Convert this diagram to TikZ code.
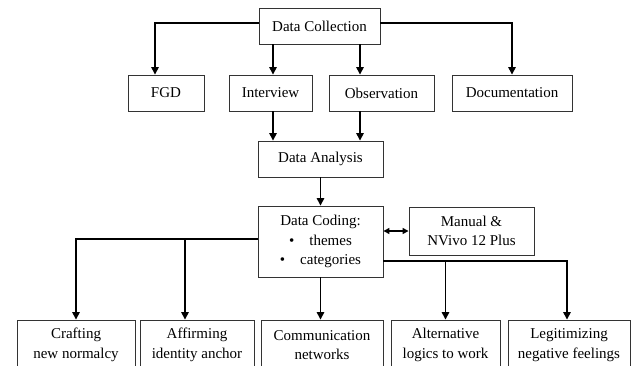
\documentclass[tikz,border=0pt]{standalone}
\usepackage{fontspec}
\setmainfont{Liberation Serif}
\usetikzlibrary{arrows.meta}
\tikzset{
  box/.style={draw=black!80, line width=0.9pt, minimum height=36pt, inner sep=0pt, align=center, font=\fontsize{15}{19.5}\selectfont},
  arr/.style={line width=1.4pt, -{Triangle[length=7.5pt,width=7.5pt]}},
  arrboth/.style={line width=1.4pt, {Triangle[length=6pt,width=6pt]}-{Triangle[length=6pt,width=6pt]}},
}
\begin{document}
\begin{tikzpicture}[x=1pt, y=-1pt]
\clip (0,0) rectangle (636,365);

\node[box, minimum width=121pt] (coll) at (319.5,26) {Data Collection};
\foreach \n/\x/\w/\t in {fgd/166/76/FGD, intv/270.5/83/Interview, obs/381.5/105/Observation, doc/512/120/Documentation}
  {\node[box, minimum width=\w pt] (\n) at (\x,93) {\t};}
\node[box, minimum width=125pt] (ana) at (320.5,159) {Data Analysis};
\node[box, minimum width=125pt, minimum height=71pt] (cod) at (320.5,241.5) {Data Coding:\\\textbullet\quad themes\\\textbullet\quad categories};
\node[box, minimum width=125pt, minimum height=48pt] (man) at (471.5,231) {Manual \&\\NVivo 12 Plus};
\foreach \n/\x/\w/\t in {craft/76/118/{Crafting\\new normalcy}, aff/197/114/{Affirming\\identity anchor}, comm/322/122/{Communication\\networks}, alt/445.5/109/{Alternative\\logics to work}, leg/569/122/{Legitimizing\\negative feelings}}
  {\node[box, minimum width=\w pt, minimum height=50pt] (\n) at (\x,345) {\t};}

\draw[arr] ([yshift=3pt]coll.west) -| ([xshift=-11pt]fgd.north);
\draw[arr] ([yshift=3pt]coll.east) -| (doc.north);
\draw[arr] ([xshift=-46.5pt]coll.south) -- ([xshift=2.5pt]intv.north);
\draw[arr] ([xshift=40.5pt]coll.south) -- ([xshift=-21.5pt]obs.north);
\draw[arr] ([xshift=2.5pt]intv.south) -- ([xshift=-47.5pt]ana.north);
\draw[arr] ([xshift=-21.5pt]obs.south) -- ([xshift=39.5pt]ana.north);
\draw[arr] (ana) -- (cod);
\draw[arrboth] (cod.east |- man.west) -- (man.west);

\coordinate (lsplit) at ([yshift=2.5pt]cod.west);
\coordinate (affin) at ([xshift=-12pt]aff.north);
\coordinate (rsplit) at ([yshift=-19.5pt]cod.east);
\draw[arr] (lsplit) -| (craft.north);
\draw[arr] (lsplit -| affin) -- (affin);
\draw[arr] (cod.south) -- (cod.south |- comm.north);
\draw[arr] (rsplit) -| ([xshift=-2pt]leg.north);
\draw[arr] (rsplit -| alt.north) -- (alt.north);

\end{tikzpicture}
\end{document}
